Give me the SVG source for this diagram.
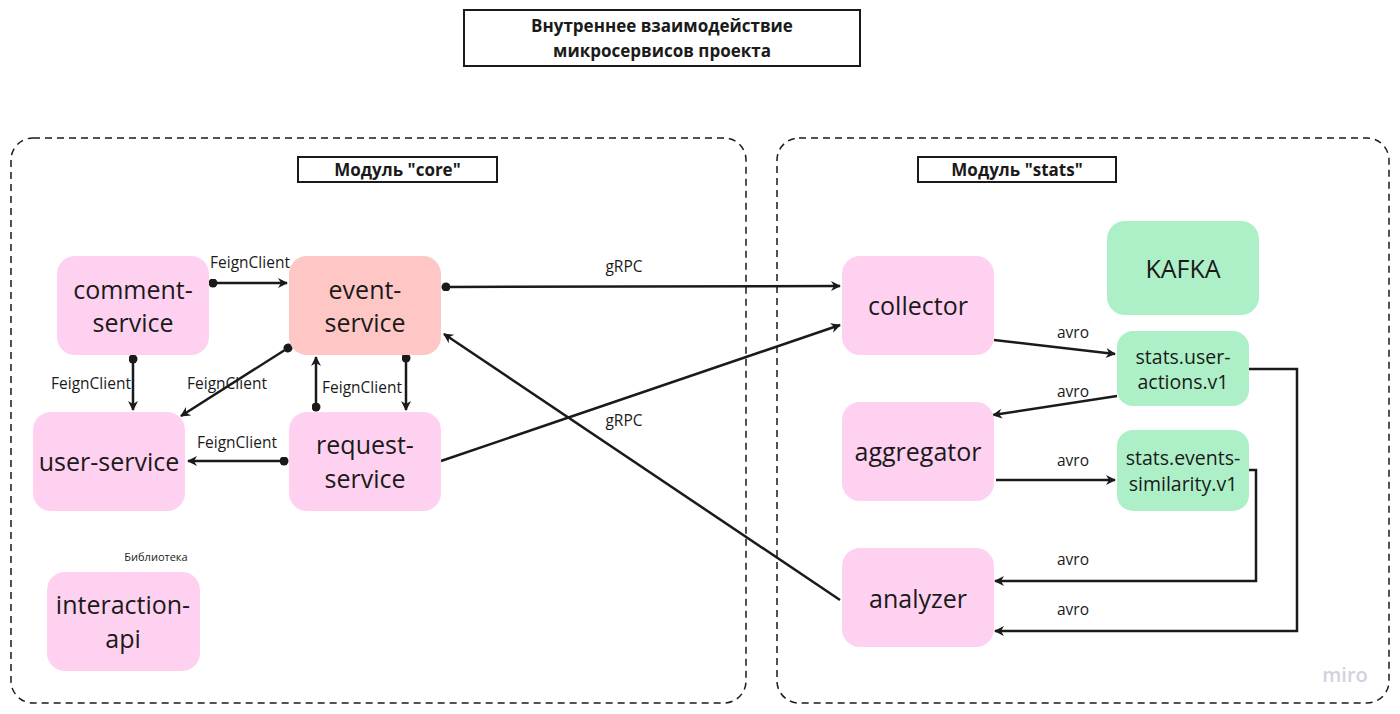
<svg xmlns="http://www.w3.org/2000/svg" width="1400" height="714" viewBox="0 0 1400 714">
<defs>
<style>
text{font-family:"Open Sans","Noto Sans",sans-serif;fill:#1a1a1a}
.node{stroke:none}
.pink{fill:#ffd1f0}
.red{fill:#ffc6c6}
.green{fill:#adf0c7}
.nl{font-size:25px;text-anchor:middle}
.tl{font-size:19.5px;text-anchor:middle}
.lbl{font-size:15.5px;text-anchor:middle}
.hdr{font-size:17px;font-weight:bold;text-anchor:middle}
.cont{fill:none;stroke:#1a1a1a;stroke-width:1.5;stroke-dasharray:7 5}
.box{fill:#fff;stroke:#1a1a1a;stroke-width:2}
.c{fill:none;stroke:#1a1a1a;stroke-width:2.5;marker-end:url(#ah)}
.cd{fill:none;stroke:#1a1a1a;stroke-width:2.5;marker-start:url(#dot);marker-end:url(#ah)}
</style>
<marker id="ah" viewBox="0 0 12 12" refX="10" refY="6" markerWidth="12" markerHeight="12" markerUnits="userSpaceOnUse" orient="auto">
<path d="M1,1 L11,6 L1,11 L4,6 z" fill="#1a1a1a"/>
</marker>
<marker id="dot" viewBox="0 0 10 10" refX="5" refY="5" markerWidth="9" markerHeight="9" markerUnits="userSpaceOnUse" orient="auto">
<circle cx="5" cy="5" r="5" fill="#1a1a1a"/>
</marker>
</defs>
<rect width="1400" height="714" fill="#fff"/>

<g id="title">
<rect class="box" x="464" y="10" width="396" height="56"/>
<text class="hdr" x="662" y="32">Внутреннее взаимодействие</text>
<text class="hdr" x="662" y="57">микросервисов проекта</text>
</g>

<g id="module-core">
<rect class="cont" x="11" y="138" width="735" height="565" rx="22"/>
<rect class="box" x="298" y="157" width="199" height="25"/>
<text class="hdr" x="397.5" y="176">Модуль "core"</text>
</g>
<g id="module-stats">
<rect class="cont" x="777" y="138" width="612" height="565" rx="22"/>
<rect class="box" x="918" y="157" width="198" height="25"/>
<text class="hdr" x="1017" y="176">Модуль "stats"</text>
</g>

<g id="connectors">
<path class="cd" d="M213,283 L287,283"/>
<text class="lbl" x="250" y="268">FeignClient</text>
<path class="cd" d="M446,287 L840,286"/>
<text class="lbl" x="624" y="272">gRPC</text>
<path class="cd" d="M133,359 L133,410"/>
<text class="lbl" x="91" y="389">FeignClient</text>
<path class="cd" d="M288,348 L181,416"/>
<text class="lbl" x="227" y="389">FeignClient</text>
<path class="cd" d="M316,407 L316,357"/>
<path class="cd" d="M406,358 L406,410"/>
<text class="lbl" x="362" y="393">FeignClient</text>
<path class="cd" d="M284,461 L188,461"/>
<text class="lbl" x="237" y="448">FeignClient</text>
<path class="c" d="M441,461 L840,325"/>
<path class="c" d="M840,600 L444,334"/>
<text class="lbl" x="624" y="426">gRPC</text>
<path class="c" d="M994,340 L1115,354"/>
<text class="lbl" x="1073" y="338">avro</text>
<path class="c" d="M1117,396 L993,415"/>
<text class="lbl" x="1073" y="397">avro</text>
<path class="c" d="M996,480 L1115,480"/>
<text class="lbl" x="1073" y="466">avro</text>
<path class="c" d="M1249,470 L1256,470 L1256,581 L995,581"/>
<text class="lbl" x="1073" y="565">avro</text>
<path class="c" d="M1249,369 L1297,369 L1297,631 L995,631"/>
<text class="lbl" x="1073" y="615">avro</text>
</g>

<g id="comment-service">
<rect class="node pink" x="57" y="256" width="152" height="99" rx="18"/>
<text class="nl" x="133" y="299">comment-</text>
<text class="nl" x="133" y="332">service</text>
</g>
<g id="event-service">
<rect class="node red" x="289" y="256" width="152" height="99" rx="18"/>
<text class="nl" x="365" y="299">event-</text>
<text class="nl" x="365" y="332">service</text>
</g>
<g id="user-service">
<rect class="node pink" x="33" y="412" width="152" height="99" rx="18"/>
<text class="nl" x="109" y="471">user-service</text>
</g>
<g id="request-service">
<rect class="node pink" x="289" y="412" width="152" height="99" rx="18"/>
<text class="nl" x="365" y="454">request-</text>
<text class="nl" x="365" y="488">service</text>
</g>
<g id="interaction-api">
<text x="156" y="561" style="font-size:11px;text-anchor:middle">Библиотека</text>
<rect class="node pink" x="47" y="572" width="153" height="99" rx="18"/>
<text class="nl" x="123" y="614">interaction-</text>
<text class="nl" x="123" y="648">api</text>
</g>
<g id="collector">
<rect class="node pink" x="842" y="256" width="152" height="99" rx="18"/>
<text class="nl" x="918" y="315">collector</text>
</g>
<g id="aggregator">
<rect class="node pink" x="842" y="402" width="152" height="99" rx="18"/>
<text class="nl" x="918" y="461">aggregator</text>
</g>
<g id="analyzer">
<rect class="node pink" x="842" y="548" width="152" height="99" rx="18"/>
<text class="nl" x="918" y="608">analyzer</text>
</g>
<g id="kafka">
<rect class="node green" x="1107" y="221" width="152" height="94" rx="18"/>
<text class="nl" x="1183" y="278">KAFKA</text>
</g>
<g id="stats-user-actions">
<rect class="node green" x="1117" y="331" width="132" height="75" rx="16"/>
<text class="tl" x="1183" y="364">stats.user-</text>
<text class="tl" x="1183" y="389">actions.v1</text>
</g>
<g id="stats-events-similarity">
<rect class="node green" x="1117" y="430" width="132" height="81" rx="16"/>
<text class="tl" x="1183" y="465">stats.events-</text>
<text class="tl" x="1183" y="491">similarity.v1</text>
</g>
<text x="1345" y="682" style="font-size:20px;text-anchor:middle;fill:#d2d2de;font-weight:600">miro</text>
</svg>
